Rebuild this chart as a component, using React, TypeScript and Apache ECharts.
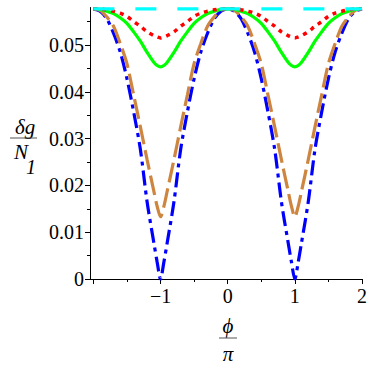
import React, { useEffect, useRef } from "react";
import * as echarts from "echarts";

const PHI = [-2, -1.9, -1.8, -1.7, -1.6, -1.5, -1.4, -1.3, -1.2, -1.1, -1.05, -1, -0.95, -0.9, -0.8, -0.7, -0.6, -0.5, -0.4, -0.3, -0.2, -0.1, 0, 0.1, 0.2, 0.3, 0.4, 0.5, 0.6, 0.7, 0.8, 0.9, 0.95, 1, 1.05, 1.1, 1.2, 1.3, 1.4, 1.5, 1.6, 1.7, 1.8, 1.9, 2];

const BLUE = [0.0577, 0.0572, 0.0556, 0.0525, 0.0485, 0.0428, 0.0357, 0.0277, 0.0165, 0.0078, 0.0036, 0.0, 0.0036, 0.0078, 0.0165, 0.0277, 0.0357, 0.0428, 0.0485, 0.0525, 0.0556, 0.0572, 0.0577, 0.0572, 0.0556, 0.0525, 0.0485, 0.0428, 0.0357, 0.0277, 0.0165, 0.0078, 0.0036, 0.0, 0.0036, 0.0078, 0.0165, 0.0277, 0.0357, 0.0428, 0.0485, 0.0525, 0.0556, 0.0572, 0.0577];

const BROWN = [0.0577, 0.0574, 0.056, 0.054, 0.0503, 0.046, 0.0393, 0.0325, 0.0255, 0.0188, 0.0155, 0.0133, 0.0155, 0.0188, 0.0255, 0.0325, 0.0393, 0.046, 0.0503, 0.054, 0.056, 0.0574, 0.0577, 0.0574, 0.056, 0.054, 0.0503, 0.046, 0.0393, 0.0325, 0.0255, 0.0188, 0.0155, 0.0133, 0.0155, 0.0188, 0.0255, 0.0325, 0.0393, 0.046, 0.0503, 0.054, 0.056, 0.0574, 0.0577];

const GREEN = [0.0577, 0.0576, 0.0572, 0.0567, 0.0558, 0.0546, 0.0528, 0.0508, 0.0484, 0.0463, 0.0456, 0.0453, 0.0456, 0.0463, 0.0484, 0.0508, 0.0528, 0.0546, 0.0558, 0.0567, 0.0572, 0.0576, 0.0577, 0.0576, 0.0572, 0.0567, 0.0558, 0.0546, 0.0528, 0.0508, 0.0484, 0.0463, 0.0456, 0.0453, 0.0456, 0.0463, 0.0484, 0.0508, 0.0528, 0.0546, 0.0558, 0.0567, 0.0572, 0.0576, 0.0577];

const RED = [0.0577, 0.0577, 0.0575, 0.0572, 0.0568, 0.0561, 0.055, 0.054, 0.0528, 0.052, 0.0517, 0.0515, 0.0517, 0.052, 0.0528, 0.054, 0.055, 0.0561, 0.0568, 0.0572, 0.0575, 0.0577, 0.0577, 0.0577, 0.0575, 0.0572, 0.0568, 0.0561, 0.055, 0.054, 0.0528, 0.052, 0.0517, 0.0515, 0.0517, 0.052, 0.0528, 0.054, 0.055, 0.0561, 0.0568, 0.0572, 0.0575, 0.0577, 0.0577];

const CYAN_PHI = [-2, 2];
const CYAN = [0.0577, 0.0577];

const X_MAJOR = [-2, -1, 0, 1, 2];
const X_LABELS = [-1, 0, 1, 2];
const X_MINOR = [-1.5, -0.5, 0.5, 1.5];
const Y_MAJOR = [0, 0.01, 0.02, 0.03, 0.04, 0.05];
const Y_MINOR = [0.005, 0.015, 0.025, 0.035, 0.045, 0.055];

const FONT = "'Liberation Serif', 'Times New Roman', serif";

const zip = (xs: number[], ys: number[]) => xs.map((x, i) => [x, ys[i]]);

export default function App() {
  const ref = useRef<HTMLDivElement>(null);
  useEffect(() => {
    if (!ref.current) return;
    const chart = echarts.init(ref.current, undefined, { renderer: "svg" });
    const XMIN = -2.05;
    const XMAX = 2;
    const YMIN = 0;
    const YMAX = 0.058;
    const labelStyle = { fontFamily: FONT, fontSize: 20, color: "#000" };
    const mkLine = (name: string, data: number[], color: string, type: any, width: number) => ({
      name,
      type: "line",
      data: zip(PHI, data),
      xAxisIndex: 0,
      yAxisIndex: 0,
      showSymbol: false,
      smooth: 0.3,
      clip: false,
      lineStyle: { color, width, type, cap: "butt" },
    });
    const titleText = (x: number, y: number, text: string, size = 21) => ({
      type: "text",
      x,
      y,
      style: { text, fontFamily: FONT, fontStyle: "italic", fontSize: size, fill: "#000", align: "center", verticalAlign: "middle" },
    });
    chart.setOption({
      animation: false,
      backgroundColor: "#fff",
      grid: { left: 90, right: 12, top: 7.5, bottom: 95, containLabel: false },
      xAxis: [
        {
          type: "value",
          min: XMIN,
          max: XMAX,
          position: "bottom",
          axisLine: { show: true, onZero: false, lineStyle: { color: "#000", width: 1 } },
          axisTick: { show: true, length: 5, customValues: X_MAJOR, lineStyle: { color: "#000", width: 1 } },
          axisLabel: {
            ...labelStyle,
            margin: 7,
            customValues: X_LABELS,
            formatter: (v: number) => String(v).replace("-", "\u2212"),
          },
          splitLine: { show: false },
        },
        {
          type: "value",
          min: XMIN,
          max: XMAX,
          position: "bottom",
          axisLine: { show: false, onZero: false },
          axisTick: { show: true, length: 3, customValues: X_MINOR, lineStyle: { color: "#000", width: 1 } },
          axisLabel: { show: false },
          splitLine: { show: false },
        },
      ],
      yAxis: [
        {
          type: "value",
          min: YMIN,
          max: YMAX,
          position: "left",
          axisLine: { show: true, onZero: false, lineStyle: { color: "#000", width: 1 } },
          axisTick: { show: true, length: 5, customValues: Y_MAJOR, lineStyle: { color: "#000", width: 1 } },
          axisLabel: {
            ...labelStyle,
            margin: 6,
            customValues: Y_MAJOR,
            formatter: (v: number) => (v === 0 ? "0" : v.toFixed(2)),
          },
          splitLine: { show: false },
        },
        {
          type: "value",
          min: YMIN,
          max: YMAX,
          position: "left",
          axisLine: { show: false, onZero: false },
          axisTick: { show: true, length: 3, customValues: Y_MINOR, lineStyle: { color: "#000", width: 1 } },
          axisLabel: { show: false },
          splitLine: { show: false },
        },
      ],
      series: [
        mkLine("blue", BLUE, "#0000ff", [15, 5, 4, 5], 3.2),
        mkLine("brown", BROWN, "#cd853f", [20, 6], 3.2),
        mkLine("green", GREEN, "#00ff00", "solid", 3.2),
        mkLine("red", RED, "#ff0000", [4, 5], 3.5),
        {
          name: "cyan",
          type: "line",
          data: zip(CYAN_PHI, CYAN),
          showSymbol: false,
          clip: false,
          lineStyle: { color: "#00ffff", width: 3.2, type: [21, 21], cap: "butt" },
        },
      ],
      graphic: [
        titleText(25, 127, "δg"),
        { type: "line", shape: { x1: 10, y1: 138, x2: 37, y2: 138 }, style: { stroke: "#555", lineWidth: 1 } },
        titleText(21, 152, "N"),
        titleText(31, 167, "1", 20),
        titleText(228, 326, "\u03D5"),
        { type: "line", shape: { x1: 219, y1: 338, x2: 237, y2: 338 }, style: { stroke: "#555", lineWidth: 1 } },
        titleText(228, 354, "π"),
      ],
    });
    return () => chart.dispose();
  }, []);
  return <div ref={ref} style={{ width: 374, height: 374, position: "absolute", left: 0, top: 0 }} />;
}
